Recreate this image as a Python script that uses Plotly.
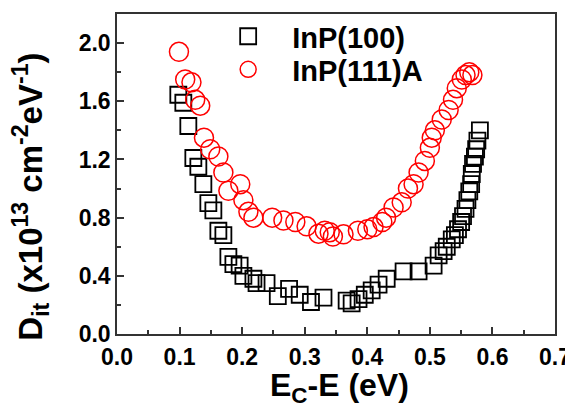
import plotly.graph_objects as go

# InP(100) data (squares)
e100 = [0.098, 0.106, 0.114, 0.122, 0.130, 0.138, 0.146, 0.154, 0.162, 0.170,
        0.178, 0.186, 0.196, 0.202, 0.218, 0.223, 0.239, 0.257, 0.275, 0.292,
        0.310, 0.330, 0.367, 0.375, 0.386, 0.396, 0.407, 0.418, 0.431, 0.458,
        0.482, 0.506, 0.514, 0.522, 0.527, 0.535, 0.540, 0.545, 0.550, 0.553,
        0.557, 0.560, 0.563, 0.566, 0.567, 0.569, 0.572, 0.574, 0.576, 0.580]
d100 = [1.645, 1.59, 1.43, 1.21, 1.15, 1.03, 0.90, 0.85, 0.71, 0.68,
        0.53, 0.48, 0.47, 0.40, 0.38, 0.35, 0.35, 0.26, 0.31, 0.27,
        0.22, 0.25, 0.23, 0.21, 0.24, 0.27, 0.30, 0.34, 0.38, 0.43,
        0.43, 0.47, 0.54, 0.57, 0.60, 0.65, 0.68, 0.72, 0.77, 0.81,
        0.86, 0.92, 0.98, 1.03, 1.10, 1.17, 1.22, 1.27, 1.33, 1.40]

# InP(111)A data (circles)
e111 = [0.099, 0.109, 0.119, 0.125, 0.133, 0.139, 0.149, 0.162, 0.170, 0.178,
        0.197, 0.202, 0.210, 0.218, 0.248, 0.266, 0.285, 0.303, 0.322, 0.332,
        0.340, 0.345, 0.362, 0.385, 0.400, 0.410, 0.424, 0.430, 0.442, 0.455,
        0.465, 0.474, 0.482, 0.492, 0.500, 0.503, 0.508, 0.519, 0.530, 0.537,
        0.543, 0.551, 0.557, 0.563, 0.568]
d111 = [1.94, 1.75, 1.73, 1.61, 1.57, 1.35, 1.27, 1.22, 1.11, 0.985,
        1.03, 0.92, 0.84, 0.80, 0.80, 0.78, 0.77, 0.74, 0.69, 0.71,
        0.70, 0.67, 0.685, 0.71, 0.72, 0.735, 0.77, 0.80, 0.87, 0.905,
        1.00, 1.03, 1.11, 1.19, 1.28, 1.35, 1.40, 1.475, 1.54, 1.61,
        1.69, 1.75, 1.78, 1.80, 1.78]

x_title = "<b>E<sub>C</sub>-E (eV)</b>"
y_title = "<b>D<sub>it</sub> (x10<sup>13</sup> cm<sup>-2</sup>eV<sup>-1</sup>)</b>"

FONT = "Arial, Liberation Sans, sans-serif"
AXC = "#333333"

fig = go.Figure()
fig.add_trace(go.Scatter(
    x=e100, y=d100, mode="markers", name="InP(100)", legend="legend",
    showlegend=True,
    marker=dict(symbol="square-open", size=16, color="black",
                line=dict(width=1.8, color="black"))))
fig.add_trace(go.Scatter(
    x=e111, y=d111, mode="markers", name="InP(111)A", legend="legend2",
    showlegend=True,
    marker=dict(symbol="circle-open", size=19, color="red",
                line=dict(width=1.5, color="red"))))

axis_common = dict(
    showline=True, linecolor=AXC, linewidth=1.5, mirror=True,
    ticks="inside", ticklen=7, tickwidth=1.5, tickcolor=AXC,
    showgrid=False, zeroline=False, automargin=False,
    tickfont=dict(family=FONT, size=23, color="black", weight="bold"),
)

fig.update_xaxes(
    range=[0, 0.7], dtick=0.1, tickformat=".1f", ticklabelstandoff=2,
    minor=dict(dtick=0.05, ticks="inside", ticklen=4, tickwidth=1.5, tickcolor=AXC),
    **axis_common)
fig.update_yaxes(
    range=[0, 2.2], dtick=0.4, tickformat=".1f", ticklabelstandoff=0,
    minor=dict(dtick=0.2, ticks="inside", ticklen=4, tickwidth=1.5, tickcolor=AXC),
    **axis_common)

# axis titles as annotations (positions tuned to the reference)
fig.add_annotation(
    text=x_title, xref="paper", yref="paper",
    x=0.507, y=-0.168, xanchor="center", yanchor="middle", showarrow=False,
    font=dict(family=FONT, size=32, color="black"))
fig.add_annotation(
    text=y_title, textangle=-90, xref="paper", yref="paper",
    x=-0.198, y=0.43, xanchor="center", yanchor="middle", showarrow=False,
    font=dict(family=FONT, size=33, color="black"))

legend_common = dict(xanchor="left", yanchor="middle", bgcolor="rgba(0,0,0,0)",
                     itemwidth=78, borderwidth=0,
                     font=dict(family=FONT, size=29, color="black", weight="bold"))

# page has an 8px body margin, so the figure is sized to fit the window
fig.update_layout(
    width=565, height=399,
    margin=dict(l=109, r=18, t=3, b=73),
    paper_bgcolor="white", plot_bgcolor="white",
    font=dict(family=FONT, color="black"),
    showlegend=True,
    legend=dict(x=0.199, y=0.93, **legend_common),
    legend2=dict(x=0.199, y=0.8265, **legend_common),
)

fig.write_html("out.html")
